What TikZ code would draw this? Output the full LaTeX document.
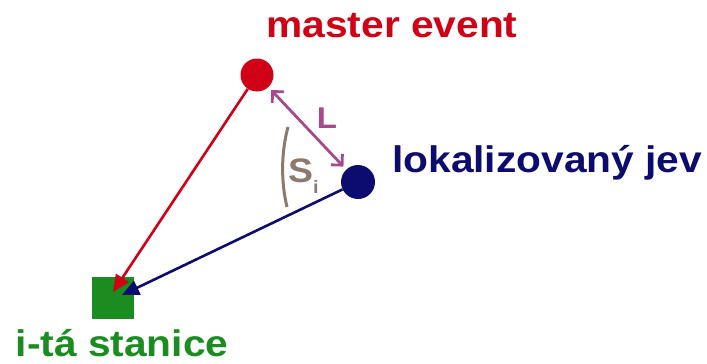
\documentclass[tikz,border=0pt]{standalone}
\usepackage{fontspec}
\setmainfont{Liberation Sans}[FakeStretch=1.1]
\usetikzlibrary{arrows.meta,positioning}
\definecolor{mred}{RGB}{208,0,22}
\definecolor{mnavy}{RGB}{12,12,110}
\definecolor{mgreen}{RGB}{26,140,32}
\definecolor{mpurple}{RGB}{165,75,140}
\definecolor{mtaupe}{RGB}{140,122,110}

\begin{document}
\begin{tikzpicture}[
  x=1pt,y=-1pt,
  ev/.style={circle,inner sep=0pt,minimum size=#1},
  lbl/.style={inner sep=0pt,font=\fontsize{37}{40}\selectfont\bfseries},
  arr/.style={-{Triangle[length=17pt,width=15pt]},line width=2.6pt},
  Larr/.style={{Straight Barb[length=8pt,width=16pt]}-{Straight Barb[length=8pt,width=16pt]},
               line width=2.8pt,mpurple,shorten <=4pt,shorten >=4pt}
]
\useasboundingbox (0,0) rectangle (707,364);
% events and station
\node[ev=33pt,fill=mred] (me) at (257,75) {};
\node[ev=34pt,fill=mnavy] (lj) at (358,182) {};
\node[fill=mgreen,minimum size=42pt,inner sep=0pt] (st) at (113,298) {};
\coordinate (rtip) at (113,292);
\coordinate (btip) at (122,295);
% labels
\node[lbl,anchor=base,text=mred] (melbl) at (392,37) {master event};
\node[lbl,anchor=base west,text=mnavy] (ljlbl) at (392,172) {lokalizovaný jev};
\node[lbl,anchor=base,text=mgreen] (stlbl) at (122,356) {i-tá stanice};
% connectors
\draw[arr,mred] (me) -- (rtip);
\draw[arr,mnavy] (lj) -- (btip);
\draw[Larr] (me) -- (lj);
\node[inner sep=0pt,font=\fontsize{30}{32}\selectfont\bfseries,text=mpurple] (L) at (327,118) {L};
% angle
\draw[mtaupe,line width=3pt] (288,127) .. controls (281,153) and (281,182) .. (287,207);
\node[inner sep=0pt,anchor=base west,font=\fontsize{34}{36}\selectfont\bfseries,text=mtaupe] (si)
  at (288,182) {S\raisebox{-11pt}{\fontsize{18}{18}\selectfont i}};
\end{tikzpicture}
\end{document}
